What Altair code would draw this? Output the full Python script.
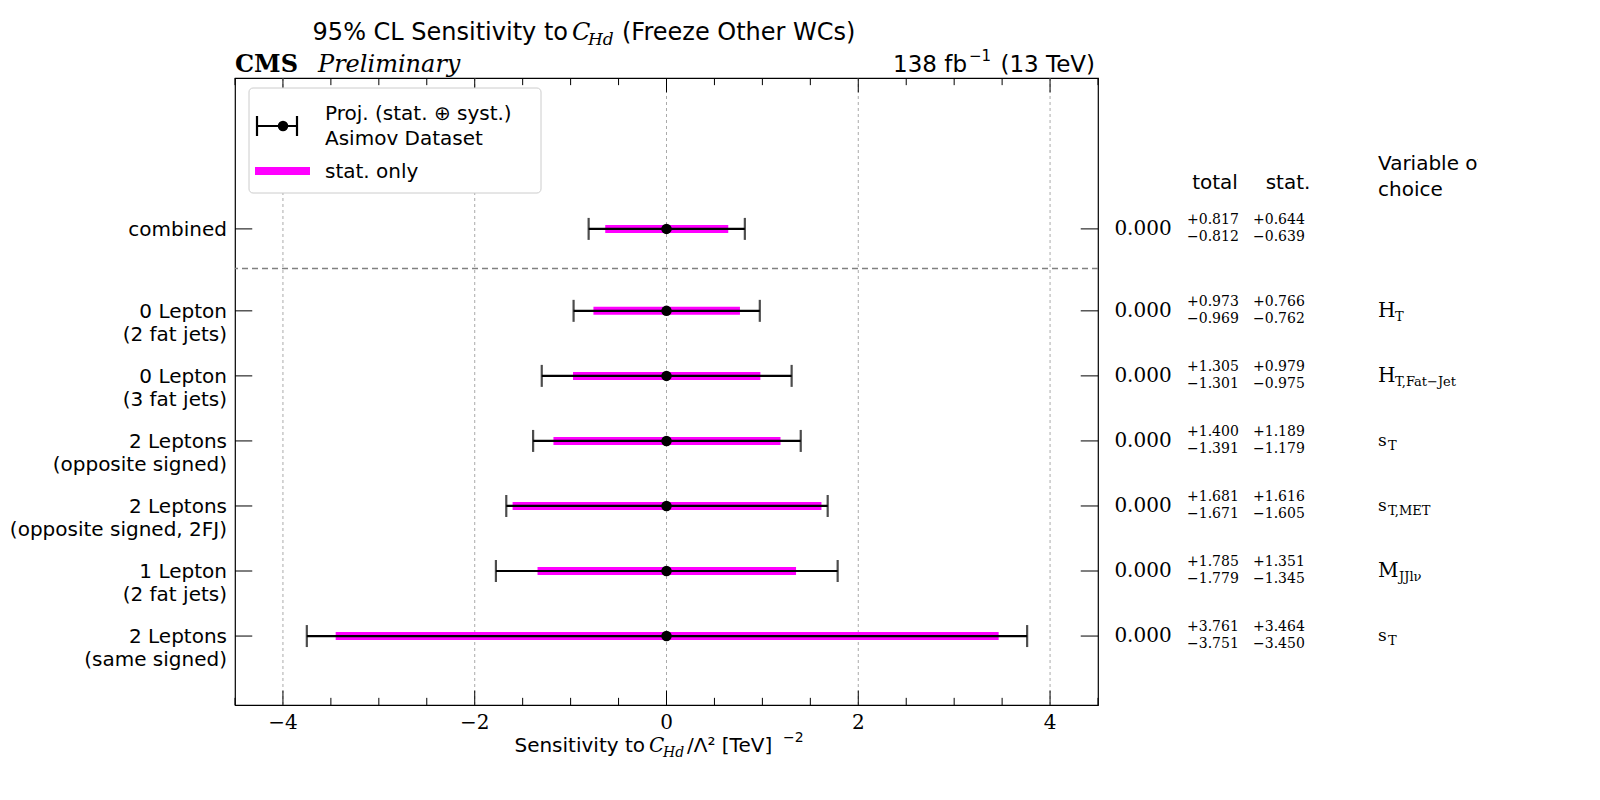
import altair as alt
import pandas as pd

labels = ["combined", "0 Lepton\n(2 fat jets)", "0 Lepton\n(3 fat jets)", "2 Leptons\n(opposite signed)",
          "2 Leptons\n(opposite signed, 2FJ)", "1 Lepton\n(2 fat jets)", "2 Leptons\n(same signed)"]
ypos = [6.26, 5, 4, 3, 2, 1, 0]
center = [0.0] * 7
tot_up = [0.817, 0.973, 1.305, 1.400, 1.681, 1.785, 3.761]
tot_dn = [0.812, 0.969, 1.301, 1.391, 1.671, 1.779, 3.751]
stat_up = [0.644, 0.766, 0.979, 1.189, 1.616, 1.351, 3.464]
stat_dn = [0.639, 0.762, 0.975, 1.179, 1.605, 1.345, 3.450]
var_main = ["", "H", "H", "s", "s", "M", "s"]
var_sub = ["", "T", "T,Fat−Jet", "T", "T,MET", "JJlν", "T"]
xticks = [-4, -2, 0, 2, 4]
sep_y = 5.65
YD = [-1.06, 8.58]

df = pd.DataFrame(dict(label=labels, y=ypos, c=center, tu=tot_up, td=tot_dn, su=stat_up, sd=stat_dn,
                       vm=var_main, vs=var_sub))
df["tlo"] = df.c - df.td; df["thi"] = df.c + df.tu
df["slo"] = df.c - df.sd; df["shi"] = df.c + df.su
df["cs"] = df.c.map(lambda v: f"{v:.3f}")
df["tus"] = df.tu.map(lambda v: f"+{v:.3f}"); df["tds"] = df.td.map(lambda v: f"−{v:.3f}")
df["sus"] = df.su.map(lambda v: f"+{v:.3f}"); df["sds"] = df.sd.map(lambda v: f"−{v:.3f}")

W, H = 863, 627
xs = alt.Scale(domain=[-4.5, 4.5], nice=False, zero=False)
ys = alt.Scale(domain=YD, nice=False, zero=False)
SANS = "DejaVu Sans"; SERIF = "DejaVu Serif"

base = alt.Chart(df)
X = lambda f: alt.X(f"{f}:Q", scale=xs, axis=None)
Y = alt.Y("y:Q", scale=ys, axis=None)

tdf = pd.DataFrame({"g": xticks, "lab": [str(v).replace("-", "−") for v in xticks], "yb": YD[0]})
grid = alt.Chart(tdf).mark_rule(color="#aaa", strokeDash=[3, 3], strokeWidth=1).encode(x=X("g"))
xlab = alt.Chart(tdf).mark_text(fontSize=20, font=SERIF, baseline="top", dy=8).encode(
    x=X("g"), y=alt.Y("yb:Q", scale=ys, axis=None), text="lab:N")
minor = pd.DataFrame({"m": [i * 0.5 for i in range(-9, 10)]})
minor["len"] = [0.22 if abs(v) % 2 == 0 else 0.11 for v in minor.m]
minor["b0"] = YD[0]; minor["b1"] = YD[0] + minor["len"]; minor["t0"] = YD[1]; minor["t1"] = YD[1] - minor["len"]
mb = alt.Chart(minor).mark_rule(color="black").encode(x=X("m"), y=alt.Y("b0:Q", scale=ys, axis=None), y2="b1")
mt = alt.Chart(minor).mark_rule(color="black").encode(x=X("m"), y=alt.Y("t0:Q", scale=ys, axis=None), y2="t1")
yt = base.transform_calculate(a="-4.5", b="-4.32", c2="4.5", d="4.32")
ytl = yt.mark_rule(color="black").encode(x=X("a"), x2="b:Q", y=Y)
ytr = yt.mark_rule(color="black").encode(x=X("c2"), x2="d:Q", y=Y)

sep = alt.Chart(pd.DataFrame({"s": [sep_y]})).mark_rule(color="gray", strokeDash=[6, 4], strokeWidth=1.5).encode(
    y=alt.Y("s:Q", scale=ys, axis=None))

stat = base.mark_rule(color="magenta", strokeWidth=8).encode(x=X("slo"), x2="shi", y=Y)
tot = base.mark_rule(color="black", strokeWidth=2.2).encode(x=X("tlo"), x2="thi", y=Y)
cap1 = base.mark_tick(color="black", orient="vertical", size=22, thickness=2.2).encode(x=X("tlo"), y=Y)
cap2 = base.mark_tick(color="black", orient="vertical", size=22, thickness=2.2).encode(x=X("thi"), y=Y)
pts = base.mark_point(color="black", filled=True, size=110, opacity=1).encode(x=X("c"), y=Y)

ylab = base.mark_text(align="right", baseline="middle", fontSize=20, font=SANS, lineBreak="\n", lineHeight=23, dy=1).encode(
    x=alt.value(-8), y=Y, text="label:N")
cval = base.mark_text(align="center", baseline="middle", fontSize=20, font=SERIF).encode(x=alt.value(908), y=Y, text="cs:N")
def small(field, xp, dy):
    return base.mark_text(align="left", baseline="middle", fontSize=14, font=SERIF, dy=dy).encode(x=alt.value(xp), y=Y, text=f"{field}:N")
nums = [small("tus", 952, -9), small("tds", 952, 8), small("sus", 1018, -9), small("sds", 1018, 8)]
vmH = base.transform_filter("datum.vm=='H'").mark_text(align="left", baseline="middle", fontSize=20, font=SERIF).encode(
    x=alt.value(1143), y=Y, text="vm:N")
vmM = base.transform_filter("datum.vm=='M'").mark_text(align="left", baseline="middle", fontSize=20, font=SERIF).encode(
    x=alt.value(1143), y=Y, text="vm:N")
vm2 = base.transform_filter("datum.vm=='s'").mark_text(align="left", baseline="middle", fontSize=17, font=SERIF).encode(
    x=alt.value(1143), y=Y, text="vm:N")
vsH = base.transform_filter("datum.vm=='H'").mark_text(align="left", baseline="middle", fontSize=13, font=SERIF, dy=6).encode(
    x=alt.value(1160), y=Y, text="vs:N")
vsM = base.transform_filter("datum.vm=='M'").mark_text(align="left", baseline="middle", fontSize=13, font=SERIF, dy=6).encode(
    x=alt.value(1164), y=Y, text="vs:N")
vs2 = base.transform_filter("datum.vm=='s'").mark_text(align="left", baseline="middle", fontSize=13, font=SERIF, dy=5).encode(
    x=alt.value(1153), y=Y, text="vs:N")

d0 = alt.Chart(pd.DataFrame({"a": [0]}))
def txt(t, x, y, size=20, align="left", font=SANS, style="normal", weight="normal", baseline="alphabetic"):
    return d0.mark_text(text=t, align=align, baseline=baseline, fontSize=size, font=font, fontStyle=style,
                        fontWeight=weight, color="black").encode(x=alt.value(x), y=alt.value(y))
texts = [
    txt("95% CL Sensitivity to", 333, -38, 24, "right"),
    txt("C", 337, -38, 24, font=SERIF, style="italic"),
    txt("Hd", 353, -33, 17, font=SERIF, style="italic"),
    txt("(Freeze Other WCs)", 387, -38, 24),
    txt("CMS", 0, -6, 24, font=SERIF, weight="bold"),
    txt("Preliminary", 83, -6, 24, font=SERIF, style="italic"),
    txt("138 fb", 732, -6, 23, "right"),
    txt("−1", 734, -17, 15),
    txt("(13 TeV)", 860, -6, 23, "right"),
    txt("Sensitivity to", 410, 674, 20, "right"),
    txt("C", 414, 674, 20, font=SERIF, style="italic"),
    txt("Hd", 428, 679, 14, font=SERIF, style="italic"),
    txt("/Λ² [TeV]", 452, 674, 20),
    txt("−2", 548, 664, 14),
    txt("total", 980, 111, 20, "center"),
    txt("stat.", 1053, 111, 20, "center"),
    txt("Variable of", 1143, 92, 20),
    txt("choice", 1143, 118, 20),
    txt("Proj. (stat. ⊕ syst.)", 90, 42, 20),
    txt("Asimov Dataset", 90, 67, 20),
    txt("stat. only", 90, 100, 20),
]
box = d0.mark_rect(fill="white", stroke="#ccc", strokeWidth=1, cornerRadius=4).encode(
    x=alt.value(14), x2=alt.value(306), y=alt.value(10), y2=alt.value(115))
leg = [
    d0.mark_rule(color="black", strokeWidth=2.2).encode(x=alt.value(22), x2=alt.value(62), y=alt.value(48)),
    d0.mark_rule(color="black", strokeWidth=2.2).encode(x=alt.value(22), y=alt.value(38), y2=alt.value(58)),
    d0.mark_rule(color="black", strokeWidth=2.2).encode(x=alt.value(62), y=alt.value(38), y2=alt.value(58)),
    d0.mark_point(color="black", filled=True, size=110, opacity=1).encode(x=alt.value(48), y=alt.value(48)),
    d0.mark_rule(color="magenta", strokeWidth=8).encode(x=alt.value(20), x2=alt.value(75), y=alt.value(93)),
]

chart = alt.layer(grid, xlab, mb, mt, ytl, ytr, sep, stat, tot, cap1, cap2, pts, ylab, cval, *nums,
                  vmH, vmM, vm2, vsH, vsM, vs2, box, *leg, *texts).properties(
    width=W, height=H, autosize=alt.AutoSizeParams(type="none"),
    padding={"left": 227, "top": 70, "right": 380, "bottom": 70}
).configure_view(stroke="black", strokeWidth=1.2)

chart.save("out.html", embed_options={"renderer": "svg", "actions": False})
